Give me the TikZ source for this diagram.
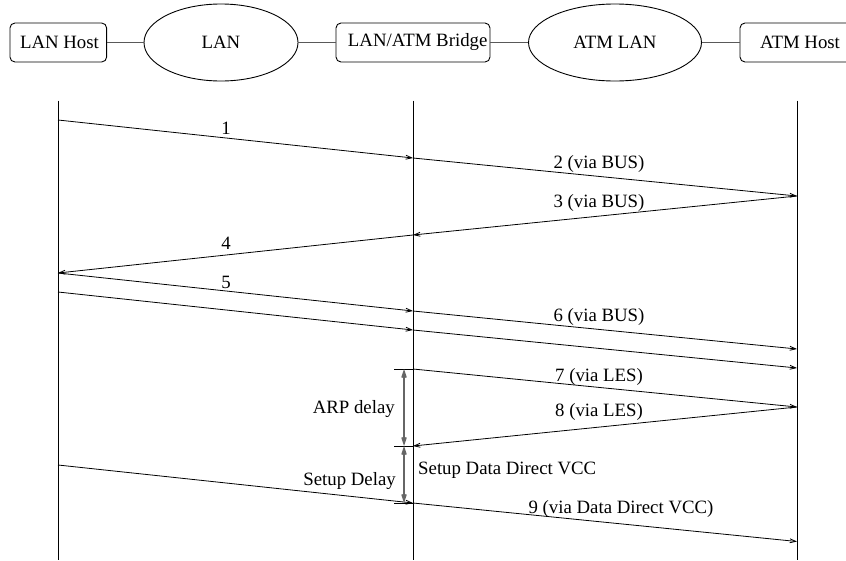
\documentclass[tikz,border=0pt]{standalone}
\usepackage{fontspec}
\setmainfont{Liberation Serif}
\newfontfamily\tms{Liberation Serif}
\usetikzlibrary{arrows.meta,shapes.geometric}
\begin{document}
\begin{tikzpicture}[x=1pt,y=-1pt,
  every node/.style={font=\tms\fontsize{18.8}{22}\selectfont, inner sep=0pt},
  box/.style={draw, rounded corners=5pt, line width=0.9pt, minimum height=39pt},
  cloud/.style={draw, ellipse, line width=0.9pt, minimum height=77pt},
  link/.style={draw, line width=1.4pt, gray!70!black},
  life/.style={draw, line width=1pt},
  msg/.style={draw, line width=0.8pt, -{Straight Barb[length=6pt,width=4pt]}},
  tick/.style={draw, line width=1pt},
  delay/.style={draw, line width=1.6pt, gray!80!black, {Straight Barb[length=6pt,width=4pt]}-{Straight Barb[length=6pt,width=4pt]}},
  lbl/.style={anchor=base}
]
\useasboundingbox (0,0) rectangle (846,560);
\clip (0,0) rectangle (846,560);

% top row
\node[box, minimum width=96.7pt] (hostL) at (58.3,42.5) {};
\node (hostLT) at (59.5,42.5) {LAN Host};
\node[cloud, minimum width=154pt] (lan) at (221,42.5) {LAN};
\node[box, minimum width=154pt] (bridge) at (413,42.5) {};
\node (bridgeT) at (417.7,42.5) {LAN/ATM Bridge};
\node[cloud, minimum width=173pt] (atmlan) at (615,42.5) {ATM LAN};
\node[box, minimum width=130pt] (hostA) at (805,42.5) {};
\node (hostAT) at (800,42.5) {ATM Host};
\draw[link] (hostL.east) -- (lan.west);
\draw[link] (lan.east) -- (bridge.west);
\draw[link] (bridge.east) -- (atmlan.west);
\draw[link] (atmlan.east) -- (hostA.west);

% lifelines
\coordinate (L0) at (58,100.7);  \coordinate (L1) at (58,560);
\coordinate (B0) at (413,100.7); \coordinate (B1) at (413,560);
\coordinate (A0) at (797,100.7); \coordinate (A1) at (797,560);
\draw[life] (L0) -- (L1);
\draw[life] (B0) -- (B1);
\draw[life] (A0) -- (A1);

% message points
\coordinate (l1) at (58,120);  \coordinate (b1) at (413,158); \coordinate (a1) at (797,196);
\coordinate (b2) at (413,235); \coordinate (l2) at (58,273);
\coordinate (b3) at (413,311); \coordinate (a3) at (797,349);
\coordinate (l4) at (58,292);  \coordinate (b4) at (413,330); \coordinate (a4) at (797,368);
\coordinate (b5) at (413,369); \coordinate (a5) at (797,407); \coordinate (b6) at (413,446);
\coordinate (l7) at (58,465);  \coordinate (b7) at (413,503); \coordinate (a7) at (797,541.5);
\coordinate (t5) at (394,369); \coordinate (t6) at (394,446); \coordinate (t7) at (394,503);
\coordinate (d5) at (404,369); \coordinate (d6) at (404,446); \coordinate (d7) at (404,503);

\draw[msg] (l1) -- (b1);
\draw[msg] (b1) -- (a1);
\draw[msg] (a1) -- (b2);
\draw[msg] (b2) -- (l2);
\draw[msg] (l2) -- (b3);
\draw[msg] (b3) -- (a3);
\draw[msg] (l4) -- (b4);
\draw[msg] (b4) -- (a4);
\draw[msg] (b5) -- (a5);
\draw[msg] (a5) -- (b6);
\draw[msg] (l7) -- (b7);
\draw[msg] (b7) -- (a7);

\draw[tick] (t5) -- (b5);
\draw[tick] (t6) -- (b6);
\draw[tick] (t7) -- (b7);
\draw[delay] (d5) -- (d6);
\draw[delay] (d6) -- (d7);

% labels
\node[lbl] (m1) at (226,134) {1};
\node[lbl] (m2) at (599,168) {2 (via BUS)};
\node[lbl] (m3) at (599,207) {3 (via BUS)};
\node[lbl] (m4) at (226,249) {4};
\node[lbl] (m5) at (226,288) {5};
\node[lbl] (m6) at (599,321) {6 (via BUS)};
\node[lbl] (m7) at (599,381) {7 (via LES)};
\node[lbl] (m8) at (599,416) {8 (via LES)};
\node[lbl] (m9) at (621,513) {9 (via Data Direct VCC)};
\node[anchor=base east] (arp) at (395,413) {ARP delay};
\node[anchor=base east] (setup) at (396,485) {Setup Delay};
\node[anchor=base west] (sddv) at (418,474) {Setup Data Direct VCC};
\end{tikzpicture}
\end{document}
